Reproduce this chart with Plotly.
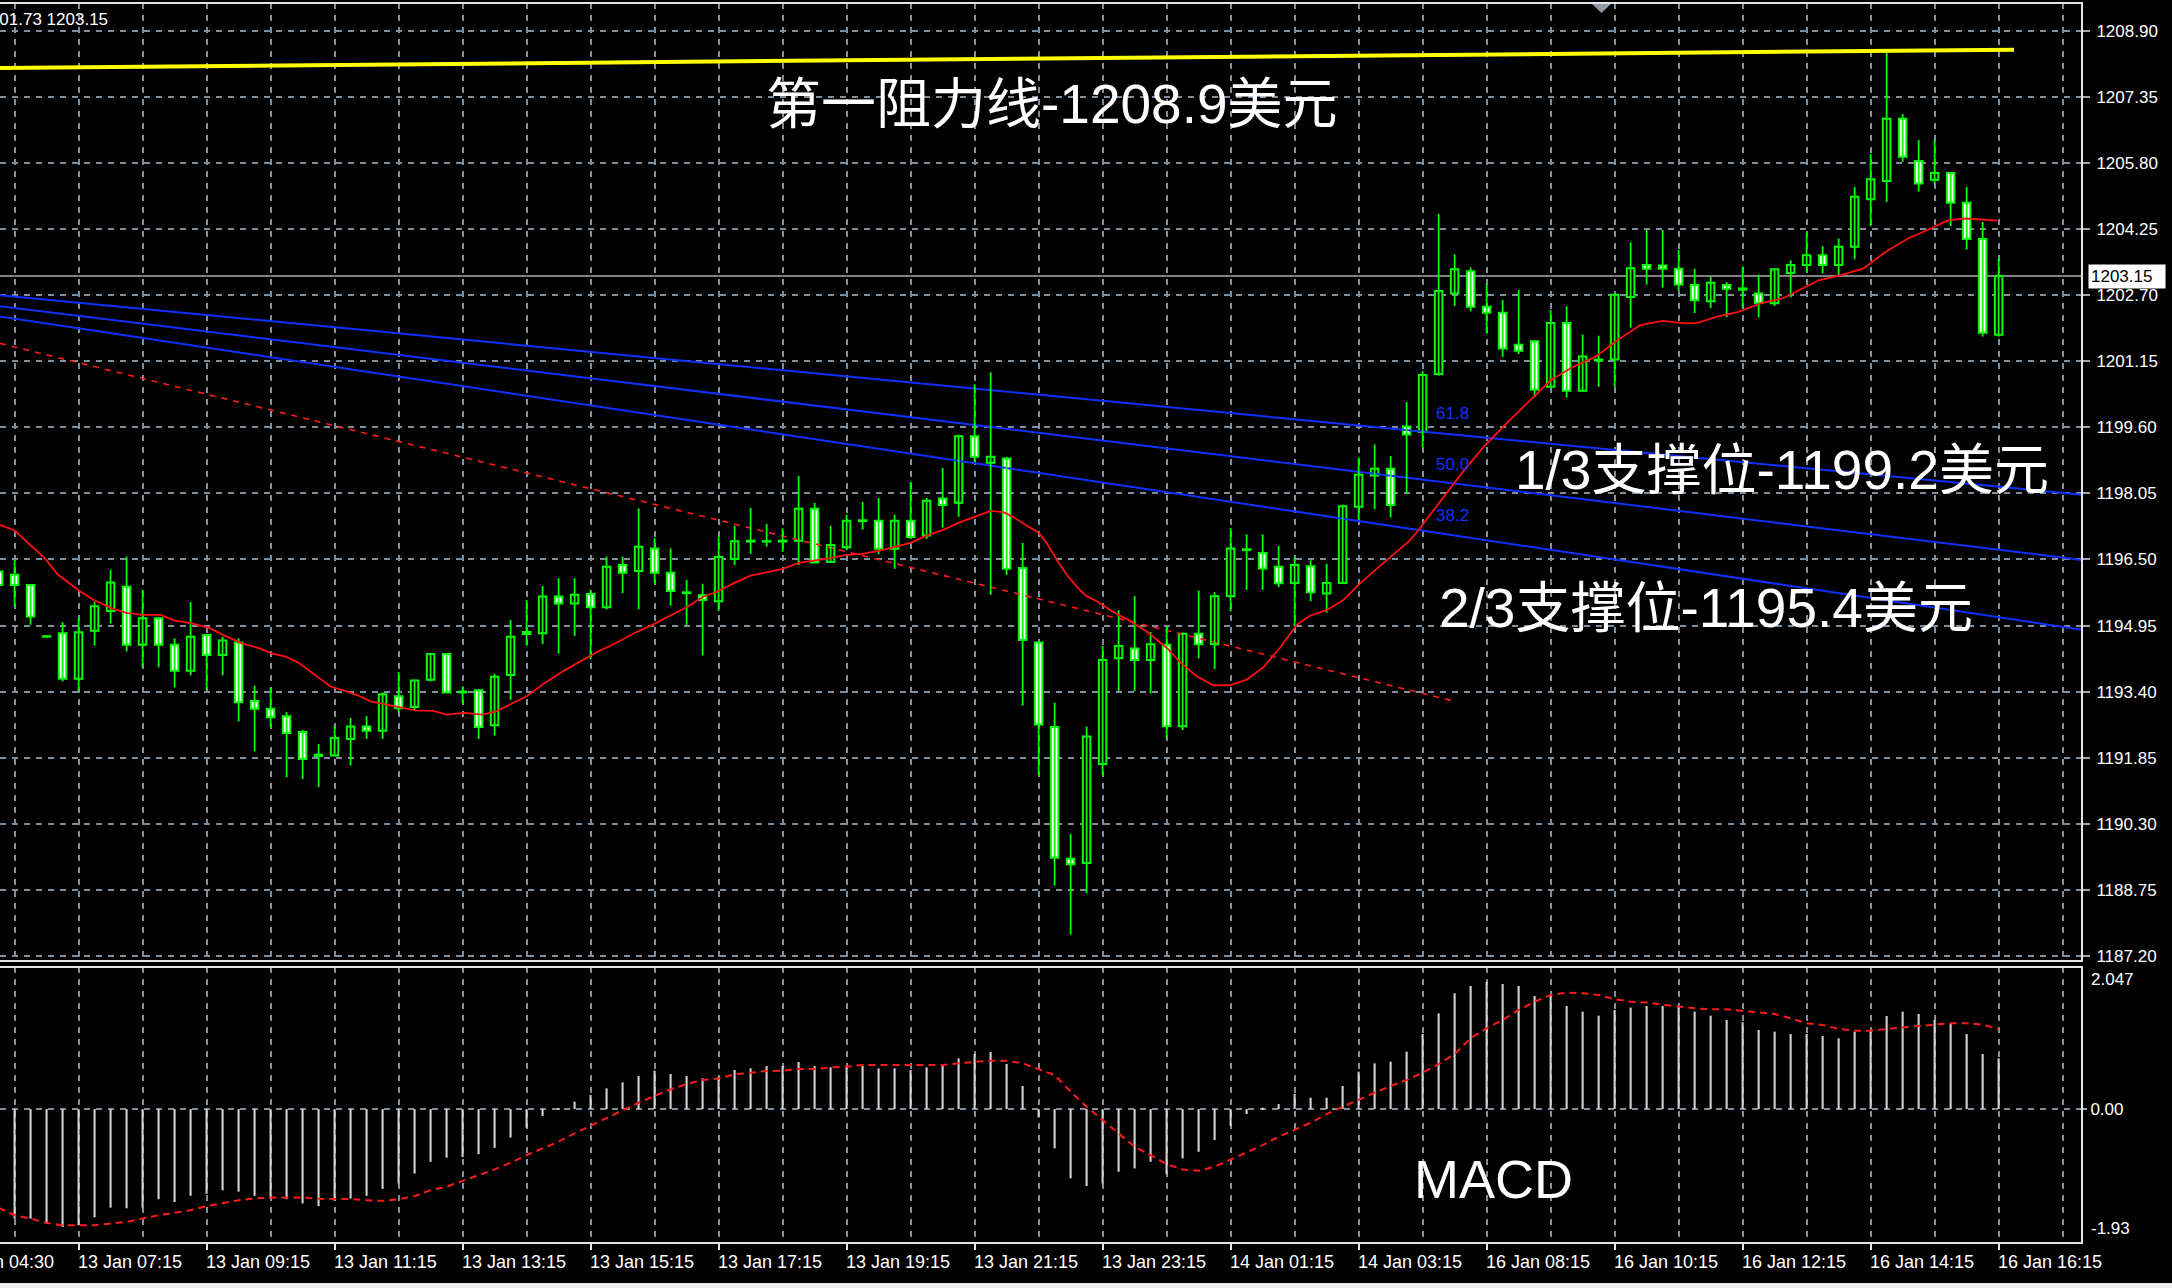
import plotly.graph_objects as go

# ---------------------------------------------------------------
# XAUUSD M15 bars; index 0 = 13 Jan 07:15, one step per bar
# ---------------------------------------------------------------
bar_index = list(range(-5, 121))

opens = [
    1196.22, 1196.14, 1195.90, 1194.70, 1194.77, 1193.70, 1194.83, 1195.29, 1195.86, 1194.50,
    1195.12, 1194.50, 1193.89, 1194.73, 1194.26, 1194.55, 1193.18, 1193.00, 1192.82, 1192.45,
    1191.89, 1191.90, 1192.29, 1192.58, 1192.48, 1193.29, 1193.04, 1193.68, 1194.28, 1193.38,
    1193.43, 1192.61, 1193.79, 1194.75, 1194.77, 1195.63, 1195.47, 1195.69, 1195.38, 1196.37,
    1196.23, 1196.76, 1196.19, 1195.71, 1195.66, 1195.52, 1196.51, 1196.92, 1196.92, 1196.92,
    1196.94, 1197.69, 1196.44, 1196.79, 1197.40, 1197.41, 1196.75, 1197.41, 1197.06, 1197.93,
    1197.83, 1199.39, 1198.77, 1198.87, 1196.30, 1194.55, 1192.57, 1189.48, 1189.38, 1191.70,
    1194.18, 1194.41, 1194.14, 1194.50, 1192.59, 1194.76, 1194.51, 1195.64, 1196.72, 1196.65,
    1196.33, 1195.95, 1196.34, 1195.70, 1195.95, 1197.74, 1198.47, 1198.63, 1199.62, 1199.49,
    1200.85, 1202.74, 1203.26, 1202.43, 1202.29, 1201.54, 1201.62, 1200.55, 1202.05, 1200.46,
    1201.17, 1201.19, 1202.66, 1203.41, 1203.40, 1203.32, 1202.94, 1202.56, 1202.94, 1202.83,
    1202.74, 1202.51, 1203.22, 1203.41, 1203.64, 1203.41, 1203.84, 1204.95, 1205.38, 1206.84,
    1205.85, 1205.41, 1205.57, 1204.87, 1204.02, 1201.77,
]
highs = [
    1196.50, 1196.49, 1195.92, 1194.72, 1195.03, 1195.12, 1195.51, 1196.26, 1196.57, 1195.79,
    1195.14, 1194.65, 1195.50, 1194.75, 1194.69, 1194.65, 1193.54, 1193.50, 1192.92, 1192.50,
    1192.17, 1192.60, 1192.78, 1192.83, 1193.38, 1193.86, 1193.68, 1194.30, 1194.30, 1193.52,
    1193.45, 1193.82, 1195.08, 1195.55, 1195.88, 1196.06, 1196.06, 1195.79, 1196.57, 1196.57,
    1197.70, 1197.00, 1196.76, 1196.02, 1195.93, 1197.03, 1197.29, 1197.71, 1197.33, 1197.23,
    1198.46, 1197.83, 1197.29, 1197.55, 1197.85, 1197.94, 1197.55, 1198.32, 1197.94, 1198.65,
    1199.43, 1200.61, 1200.89, 1198.91, 1196.89, 1194.57, 1193.14, 1190.06, 1192.58, 1194.47,
    1195.31, 1195.64, 1194.80, 1194.93, 1194.78, 1195.77, 1195.73, 1197.24, 1197.09, 1197.09,
    1196.82, 1196.56, 1196.48, 1196.40, 1197.79, 1198.89, 1199.20, 1198.93, 1200.19, 1200.92,
    1204.61, 1203.66, 1203.35, 1202.97, 1202.59, 1202.82, 1201.64, 1202.35, 1202.44, 1201.78,
    1201.75, 1202.72, 1203.94, 1204.23, 1204.23, 1203.76, 1203.32, 1203.13, 1203.01, 1203.37,
    1203.18, 1203.33, 1203.52, 1204.17, 1203.85, 1204.03, 1205.24, 1206.01, 1208.41, 1206.95,
    1206.34, 1206.34, 1205.58, 1205.24, 1204.42, 1203.56,
]
lows = [
    1195.70, 1195.40, 1194.97, 1194.67, 1193.64, 1193.40, 1194.48, 1195.00, 1194.34, 1193.97,
    1193.97, 1193.50, 1193.78, 1193.44, 1193.78, 1192.70, 1192.00, 1192.57, 1191.39, 1191.35,
    1191.16, 1191.88, 1191.67, 1192.29, 1192.29, 1192.93, 1192.97, 1193.64, 1193.37, 1193.13,
    1192.29, 1192.37, 1193.21, 1194.48, 1194.52, 1194.29, 1194.71, 1194.16, 1195.33, 1195.71,
    1195.33, 1195.94, 1195.42, 1194.96, 1194.25, 1195.29, 1196.37, 1196.63, 1196.80, 1196.68,
    1196.37, 1196.42, 1196.42, 1196.72, 1197.20, 1196.62, 1196.28, 1196.98, 1196.98, 1197.25,
    1197.50, 1198.79, 1195.67, 1196.14, 1193.07, 1191.45, 1188.85, 1187.70, 1188.67, 1191.45,
    1193.41, 1193.41, 1193.36, 1192.30, 1192.50, 1194.18, 1193.93, 1195.28, 1195.79, 1195.79,
    1195.85, 1194.93, 1195.52, 1195.25, 1195.94, 1197.44, 1197.68, 1197.49, 1198.05, 1199.14,
    1200.81, 1202.45, 1202.32, 1201.80, 1201.25, 1201.32, 1200.30, 1200.53, 1200.30, 1200.44,
    1200.55, 1200.55, 1201.94, 1202.95, 1202.88, 1202.80, 1202.28, 1202.40, 1202.18, 1202.40,
    1202.18, 1202.45, 1202.65, 1203.25, 1203.21, 1203.15, 1203.54, 1204.32, 1204.89, 1205.83,
    1205.13, 1205.32, 1204.32, 1203.77, 1201.73, 1201.73,
]
closes = [
    1195.90, 1195.90, 1195.16, 1194.69, 1193.70, 1194.79, 1195.40, 1195.96, 1194.50, 1195.12,
    1194.50, 1193.89, 1194.69, 1194.26, 1194.60, 1193.15, 1193.00, 1192.80, 1192.43, 1191.82,
    1191.92, 1192.31, 1192.58, 1192.48, 1193.34, 1193.01, 1193.66, 1194.28, 1193.38, 1193.40,
    1192.57, 1193.75, 1194.69, 1194.80, 1195.63, 1195.47, 1195.67, 1195.38, 1196.33, 1196.19,
    1196.80, 1196.19, 1195.76, 1195.73, 1195.55, 1196.56, 1196.93, 1196.94, 1196.93, 1196.94,
    1197.69, 1196.43, 1196.84, 1197.41, 1197.42, 1196.75, 1197.41, 1197.03, 1197.88, 1197.78,
    1199.39, 1198.91, 1198.91, 1196.28, 1194.61, 1192.63, 1189.50, 1189.35, 1192.35, 1194.14,
    1194.47, 1194.14, 1194.51, 1192.59, 1194.76, 1194.51, 1195.64, 1196.76, 1196.74, 1196.29,
    1195.94, 1196.37, 1195.73, 1195.95, 1197.75, 1198.49, 1198.63, 1197.78, 1199.43, 1200.83,
    1202.80, 1203.31, 1202.43, 1202.29, 1201.45, 1201.40, 1200.48, 1202.05, 1200.46, 1201.26,
    1201.19, 1202.71, 1203.33, 1203.32, 1203.32, 1202.95, 1202.58, 1202.99, 1202.85, 1202.86,
    1202.52, 1203.31, 1203.41, 1203.64, 1203.41, 1203.84, 1205.01, 1205.42, 1206.84, 1205.95,
    1205.32, 1205.57, 1204.87, 1204.02, 1201.82, 1203.15,
]

# moving average of the close (red line)
ma_x = [
    -4.91, -3.99, -2.12, -1.28, 0.11, 0.95, 2.06, 3.04, 4.02, 5.13, 5.97, 7.09, 8.20, 9.04,
    10.16, 11.27, 12.11, 12.95, 13.78, 14.62, 15.74, 16.57, 17.41, 18.25, 19.08, 19.92,
    21.04, 22.15, 22.99, 24.11, 25.22, 26.06, 26.90, 28.01, 29.13, 30.25, 31.36, 32.48,
    33.59, 34.71, 35.83, 36.94, 38.0, 39.0, 40.0, 41.0, 42.0, 43.0, 44.0, 45.0, 46.0, 47.0,
    48.0, 49.0, 50.0, 51.0, 52.0, 53.0, 54.0, 55.0, 56.0, 57.0, 57.8, 58.4, 59.2, 60.0,
    60.5, 61.1, 61.76, 62.4, 63.0, 63.63, 64.67, 65.71, 66.75, 68.0, 68.84, 69.88, 70.92,
    71.96, 73.0, 74.05, 75.09, 76.13, 76.96, 78.0, 79.05, 80.09, 81.34, 82.38, 83.21,
    83.84, 84.67, 85.5, 86.44, 87.83, 89.23, 90.62, 92.02, 93.41, 94.81, 96.2, 97.6, 99.0,
    100.39, 101.2, 102.34, 103.74, 105.13, 106.53, 107.36, 108.76, 110.15, 111.55, 112.95,
    114.34, 115.74, 116.85, 117.97, 119.9,
]
ma_y = [
    1197.31, 1197.18, 1196.53, 1196.14, 1195.75, 1195.55, 1195.36, 1195.24, 1195.20, 1195.20,
    1195.07, 1195.00, 1194.89, 1194.73, 1194.54, 1194.42, 1194.29, 1194.22, 1194.07, 1193.83,
    1193.52, 1193.43, 1193.32, 1193.17, 1193.11, 1193.04, 1192.96, 1192.95, 1192.86, 1192.90,
    1192.86, 1192.93, 1193.09, 1193.29, 1193.60, 1193.87, 1194.11, 1194.34, 1194.54, 1194.77,
    1194.96, 1195.18, 1195.38, 1195.62, 1195.76, 1195.95, 1196.12, 1196.20, 1196.28, 1196.42,
    1196.47, 1196.53, 1196.61, 1196.63, 1196.70, 1196.80, 1196.89, 1197.06, 1197.19, 1197.36,
    1197.50, 1197.64, 1197.61, 1197.50, 1197.31, 1197.13, 1196.89, 1196.51, 1196.14, 1195.85,
    1195.64, 1195.52, 1195.27, 1195.06, 1194.81, 1194.43, 1194.09, 1193.76, 1193.55, 1193.55,
    1193.68, 1193.97, 1194.43, 1194.97, 1195.18, 1195.31, 1195.55, 1195.94, 1196.35, 1196.69,
    1196.95, 1197.24, 1197.65, 1198.05, 1198.52, 1199.15, 1199.69, 1200.20, 1200.71, 1201.02,
    1201.26, 1201.65, 1202.00, 1202.10, 1202.04, 1202.05, 1202.19, 1202.31, 1202.51, 1202.63,
    1202.78, 1203.05, 1203.17, 1203.33, 1203.72, 1204.03, 1204.26, 1204.46, 1204.50, 1204.45,
]

# MACD histogram and signal line, one value per bar
macd_hist = [
    -1.55, -1.58, -1.58, -1.65, -1.70, -1.675, -1.56, -1.42, -1.43, -1.42,
    -1.30, -1.34, -1.25, -1.22, -1.17, -1.19, -1.25, -1.29, -1.30, -1.36,
    -1.40, -1.32, -1.29, -1.25, -1.15, -1.07, -0.93, -0.76, -0.70, -0.69,
    -0.65, -0.56, -0.41, -0.27, -0.10, 0.01, 0.106, 0.202, 0.298, 0.385,
    0.476, 0.553, 0.505, 0.476, 0.442, 0.466, 0.563, 0.587, 0.62, 0.62,
    0.678, 0.62, 0.601, 0.601, 0.62, 0.587, 0.587, 0.563, 0.601, 0.62,
    0.731, 0.793, 0.822, 0.649, 0.332, -0.12, -0.567, -0.999, -1.110, -1.071,
    -0.903, -0.856, -0.760, -0.938, -0.712, -0.616, -0.447, -0.245, -0.072, 0.02,
    0.072, 0.216, 0.163, 0.163, 0.332, 0.539, 0.659, 0.683, 0.827, 1.082,
    1.380, 1.669, 1.774, 1.832, 1.803, 1.774, 1.630, 1.659, 1.486, 1.404,
    1.346, 1.428, 1.462, 1.486, 1.486, 1.476, 1.404, 1.346, 1.284, 1.250,
    1.139, 1.115, 1.082, 1.082, 1.053, 1.019, 1.115, 1.139, 1.341, 1.404,
    1.370, 1.284, 1.236, 1.082, 0.793, 0.731,
]
macd_signal = [
    -1.42, -1.53, -1.578, -1.64, -1.673, -1.673, -1.673, -1.65, -1.625, -1.578,
    -1.53, -1.496, -1.457, -1.40, -1.351, -1.313, -1.289, -1.275, -1.275, -1.275,
    -1.294, -1.298, -1.298, -1.313, -1.323, -1.298, -1.255, -1.168, -1.12, -1.034,
    -0.952, -0.870, -0.774, -0.664, -0.567, -0.471, -0.351, -0.240, -0.135, -0.014,
    0.091, 0.188, 0.284, 0.361, 0.418, 0.442, 0.500, 0.524, 0.548, 0.553,
    0.577, 0.577, 0.601, 0.611, 0.635, 0.635, 0.635, 0.635, 0.635, 0.635,
    0.659, 0.678, 0.697, 0.697, 0.659, 0.575, 0.491, 0.250, 0.034, -0.159,
    -0.351, -0.543, -0.664, -0.793, -0.870, -0.890, -0.832, -0.726, -0.616, -0.519,
    -0.399, -0.303, -0.197, -0.072, 0.034, 0.139, 0.236, 0.332, 0.418, 0.524,
    0.649, 0.793, 1.019, 1.164, 1.284, 1.428, 1.548, 1.644, 1.678, 1.669,
    1.644, 1.582, 1.548, 1.534, 1.500, 1.476, 1.452, 1.438, 1.438, 1.418,
    1.390, 1.370, 1.308, 1.236, 1.212, 1.154, 1.130, 1.130, 1.154, 1.178,
    1.197, 1.217, 1.236, 1.236, 1.217, 1.149,
]

# Fibonacci fan lines (bar index / price at the two chart edges)
fan_x = [-4.91, 125.21]
fan_618 = [1202.70, 1198.02]
fan_500 = [1202.44, 1196.49]
fan_382 = [1202.20, 1194.85]
fan_labels = ["61.8", "50.0", "38.2"]

# falling red dashed trend line
trend_x = [-4.91, 85.82]
trend_y = [1201.57, 1193.19]

# yellow resistance line
resist_x = [-4.91, 120.96]
resist_y = [1208.03, 1208.46]

# axis labels
price_ticks = [1208.90, 1207.35, 1205.80, 1204.25, 1202.70, 1201.15, 1199.60, 1198.05,
               1196.50, 1194.95, 1193.40, 1191.85, 1190.30, 1188.75, 1187.20]
macd_top_label, macd_zero_label, macd_bottom_label = "2.047", "0.00", "-1.93"
time_tick_pos = [-8, 0, 8, 16, 24, 32, 40, 48, 56, 64, 72, 80, 88, 96, 104, 112, 120]
time_tick_text = ["13 Jan 04:30", "13 Jan 07:15", "13 Jan 09:15", "13 Jan 11:15",
                  "13 Jan 13:15", "13 Jan 15:15", "13 Jan 17:15", "13 Jan 19:15",
                  "13 Jan 21:15", "13 Jan 23:15", "14 Jan 01:15", "14 Jan 03:15",
                  "16 Jan 08:15", "16 Jan 10:15", "16 Jan 12:15", "16 Jan 14:15",
                  "16 Jan 16:15"]

resistance_text = "第一阻力线-1208.9美元"
support1_text = "1/3支撑位-1199.2美元"
support2_text = "2/3支撑位-1195.4美元"
macd_text = "MACD"

assert len(opens) == len(highs) == len(lows) == len(closes) == len(bar_index)
assert len(macd_hist) == len(macd_signal) == len(bar_index)
assert len(ma_x) == len(ma_y)

# ---------------------------------------------------------------
# geometry (pixels) and styling
# ---------------------------------------------------------------
FIG_W, FIG_H = 2172, 1288
M_L, M_R, M_T, M_B = 0, 90, 3, 45
PLOT_W = FIG_W - M_L - M_R
PLOT_H = FIG_H - M_T - M_B
PLOT_BOTTOM = FIG_H - M_B


def px(x):
    return (x - M_L) / PLOT_W


def py(y):
    return (PLOT_BOTTOM - y) / PLOT_H


MAIN_DOMAIN = [py(961), 1.0]
MACD_DOMAIN = [0.0, py(967)]
X_RANGE = [-4.91, 125.21]
PRICE_RANGE = [1187.08, 1209.556]
MACD_RANGE = [-1.93, 2.047]

BG = "#000000"
CANDLE = "#00ff00"
GRID = "#7f8e9e"
FRAME = "#e4e4e4"
TEXT = "#ffffff"
FAN = "#1030ff"
LABEL_FONT = "Liberation Sans"
NOTE_FONT = "Liberation Sans, Noto Sans CJK SC"

fig = go.Figure()

# fan lines and trend line
for ys in (fan_618, fan_500, fan_382):
    fig.add_trace(go.Scatter(x=fan_x, y=ys, mode="lines",
                             line=dict(color=FAN, width=2), xaxis="x", yaxis="y"))
fig.add_trace(go.Scatter(x=trend_x, y=trend_y, mode="lines",
                         line=dict(color="#ff1a1a", width=1.6, dash="6px,6px"),
                         xaxis="x", yaxis="y"))

# wicks
wick_x, wick_y = [], []
for i, h, l in zip(bar_index, highs, lows):
    wick_x += [i, i, None]
    wick_y += [l, h, None]
fig.add_trace(go.Scatter(x=wick_x, y=wick_y, mode="lines",
                         line=dict(color=CANDLE, width=1.8), xaxis="x", yaxis="y"))

# bodies: rising bars hollow (black), falling bars white
up = [k for k in range(len(bar_index)) if closes[k] >= opens[k]]
dn = [k for k in range(len(bar_index)) if closes[k] < opens[k]]
fig.add_trace(go.Bar(
    x=[bar_index[k] for k in up],
    base=[opens[k] for k in up],
    y=[closes[k] - opens[k] for k in up],
    width=0.47, marker=dict(color=BG, line=dict(color=CANDLE, width=2)),
    xaxis="x", yaxis="y"))
fig.add_trace(go.Bar(
    x=[bar_index[k] for k in dn],
    base=[closes[k] for k in dn],
    y=[opens[k] - closes[k] for k in dn],
    width=0.47, marker=dict(color="#ffffff", line=dict(color=CANDLE, width=2)),
    xaxis="x", yaxis="y"))

# moving average and resistance line
fig.add_trace(go.Scatter(x=ma_x, y=ma_y, mode="lines",
                         line=dict(color="#ff1010", width=1.8), xaxis="x", yaxis="y"))
fig.add_trace(go.Scatter(x=resist_x, y=resist_y, mode="lines",
                         line=dict(color="#ffff00", width=4), xaxis="x", yaxis="y"))

# MACD pane
fig.add_trace(go.Bar(x=bar_index, y=macd_hist, width=0.13,
                     marker=dict(color="#d4d4d4", line=dict(width=0)),
                     xaxis="x2", yaxis="y2"))
fig.add_trace(go.Scatter(x=bar_index, y=macd_signal, mode="lines",
                         line=dict(color="#ff1a1a", width=2, dash="7px,5px"),
                         xaxis="x2", yaxis="y2"))

grid_common = dict(showgrid=True, gridcolor=GRID, gridwidth=1.6, griddash="6px,6px",
                   zeroline=False, showline=False)

fig.update_layout(
    width=FIG_W, height=FIG_H,
    margin=dict(l=M_L, r=M_R, t=M_T, b=M_B, pad=0),
    paper_bgcolor=BG, plot_bgcolor=BG,
    showlegend=False, hovermode=False, barmode="overlay",
    font=dict(family=LABEL_FONT, color=TEXT, size=17),
    xaxis=dict(domain=[0, 1], range=X_RANGE, anchor="y",
               tickmode="linear", tick0=0, dtick=4,
               showticklabels=False, ticks="", **grid_common),
    yaxis=dict(domain=MAIN_DOMAIN, range=PRICE_RANGE, anchor="x", side="right",
               tickmode="array", tickvals=price_ticks,
               ticktext=[f"{v:.2f}" for v in price_ticks],
               ticks="outside", ticklen=7, tickwidth=2, tickcolor="#9aa6b2",
               ticklabelstandoff=3,
               tickfont=dict(family=LABEL_FONT, size=17, color=TEXT), **grid_common),
    xaxis2=dict(domain=[0, 1], range=X_RANGE, anchor="y2",
                tickmode="array", tickvals=time_tick_pos,
                showticklabels=False, ticks="outside", ticklen=6, tickwidth=2,
                tickcolor=FRAME,
                minor=dict(tickmode="linear", tick0=0, dtick=4, showgrid=True,
                           gridcolor=GRID, gridwidth=1.6, griddash="6px,6px", ticks=""),
                **grid_common),
    yaxis2=dict(domain=MACD_DOMAIN, range=MACD_RANGE, anchor="x2", side="right",
                tickmode="array", tickvals=[0.0], ticktext=[macd_zero_label],
                ticks="outside", ticklen=4, tickwidth=2, tickcolor="#9aa6b2",
                ticklabelstandoff=0,
                tickfont=dict(family=LABEL_FONT, size=17, color=TEXT), **grid_common),
)

# pane frames, current price line, chart-shift marker, window edge
shapes = [
    dict(type="path", xref="paper", yref="paper",
         path=f"M 0 1 L 1 1 L 1 {MAIN_DOMAIN[0]} L 0 {MAIN_DOMAIN[0]}",
         line=dict(color=FRAME, width=2)),
    dict(type="path", xref="paper", yref="paper",
         path=f"M 0 {MACD_DOMAIN[1]} L 1 {MACD_DOMAIN[1]} L 1 0 L 0 0",
         line=dict(color=FRAME, width=2)),
    dict(type="line", xref="paper", yref="y", x0=0, x1=1,
         y0=closes[-1], y1=closes[-1], layer="below",
         line=dict(color="#a8adb3", width=1.6)),
    dict(type="path", xref="paper", yref="paper",
         path=f"M {px(1592)} {py(4)} L {px(1611)} {py(4)} L {px(1601.5)} {py(13)} Z",
         fillcolor="#8d9aa6", line=dict(width=0)),
    dict(type="rect", xref="paper", yref="paper",
         x0=px(-5), x1=px(FIG_W + 5), y0=py(1283), y1=py(1292),
         fillcolor="#ececec", line=dict(width=0)),
]
fig.update_layout(shapes=shapes)

ann = []
# time labels start at their tick
for pos, txt in zip(time_tick_pos, time_tick_text):
    xpix = 78.6 + 16 * pos
    ann.append(dict(x=px(xpix - 3), y=py(1261.5), xref="paper", yref="paper",
                    text=txt, showarrow=False, xanchor="left", yanchor="middle",
                    font=dict(family=LABEL_FONT, size=18, color=TEXT)))

# MACD scale limits
ann.append(dict(x=px(2089), y=py(980), xref="paper", yref="paper", text=macd_top_label,
                showarrow=False, xanchor="left", yanchor="middle",
                font=dict(family=LABEL_FONT, size=17, color=TEXT)))
ann.append(dict(x=px(2089), y=py(1228), xref="paper", yref="paper", text=macd_bottom_label,
                showarrow=False, xanchor="left", yanchor="middle",
                font=dict(family=LABEL_FONT, size=17, color=TEXT)))

# current price tag
ann.append(dict(x=px(2088), y=closes[-1], xref="paper", yref="y",
                text=f"{closes[-1]:.2f}", showarrow=False,
                xanchor="left", yanchor="middle", align="left",
                bgcolor="#ffffff", borderpad=2, width=72, height=19,
                font=dict(family=LABEL_FONT, size=17, color="#000000")))

# symbol / OHLC line in the corner
ann.append(dict(x=px(110), y=py(19.5), xref="paper", yref="paper",
                text=f"XAUUSD,M15  {opens[-1]:.2f} {highs[-1]:.2f} {lows[-1]:.2f} {closes[-1]:.2f}",
                showarrow=False, xanchor="right", yanchor="middle",
                font=dict(family=LABEL_FONT, size=17, color=TEXT)))

# fan level labels
for lbl, ypix in zip(fan_labels, [414, 464, 515.5]):
    ann.append(dict(x=px(1434), y=py(ypix), xref="paper", yref="paper", text=lbl,
                    showarrow=False, xanchor="left", yanchor="middle",
                    font=dict(family=LABEL_FONT, size=17, color=FAN)))

# commentary
for txt, xpix, ypix, size in [(resistance_text, 764, 104, 55),
                               (support1_text, 1513, 470, 55),
                               (support2_text, 1437, 608, 55),
                               (macd_text, 1412, 1179, 54)]:
    ann.append(dict(x=px(xpix), y=py(ypix), xref="paper", yref="paper", text=txt,
                    showarrow=False, xanchor="left", yanchor="middle",
                    font=dict(family=NOTE_FONT, size=size, color=TEXT)))

fig.update_layout(annotations=ann)

fig.write_html("out.html")
